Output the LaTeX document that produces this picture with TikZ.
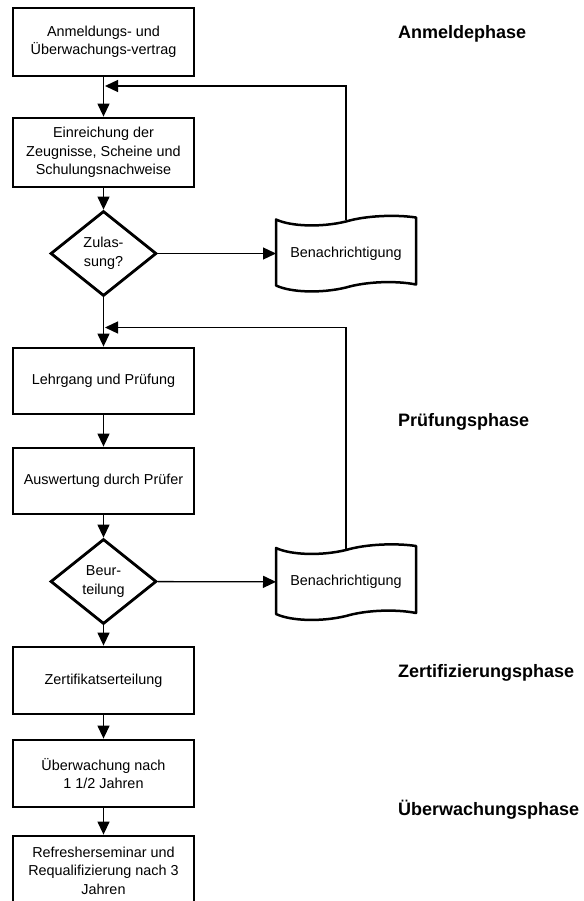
\documentclass[tikz,border=0pt]{standalone}
\usepackage{fontspec}
\setmainfont{Liberation Sans}
\usetikzlibrary{arrows.meta,shapes.geometric}
\tikzset{
  procbox/.style={draw, line width=2.8pt, minimum width=181pt, inner sep=0pt, align=center,
    font=\fontsize{14.4}{18.5}\selectfont},
  decbox/.style={draw, diamond, line width=2.8pt, minimum width=106pt, minimum height=85pt,
    aspect=1.247, inner sep=0pt, align=center, font=\fontsize{14.4}{19}\selectfont},
  docbox/.style={minimum width=140pt, minimum height=66pt, inner sep=0pt, outer sep=0pt,
    font=\fontsize{14.4}{18.5}\selectfont},
  docline/.style={line width=2.5pt, line join=round},
  conn/.style={line width=1.3pt},
  arr/.style={conn, -{Triangle[length=13pt,width=12pt]}},
  phase/.style={anchor=base west, inner sep=0pt, font=\fontsize{18}{22}\selectfont\bfseries}
}
\newcommand{\tapeoutline}[1]{%
  \begin{scope}[shift={(#1.center)}]
    \draw[docline] (-70,-34) .. controls (-55,-27) and (-25,-26) .. (0,-32)
      .. controls (20,-38) and (50,-39) .. (70,-36) -- (70,31)
      .. controls (50,27) and (20,28) .. (0,34)
      .. controls (-25,40) and (-55,39) .. (-70,32) -- cycle;
  \end{scope}}
\begin{document}
\begin{tikzpicture}[x=1pt,y=-1pt]
\useasboundingbox (0,0) rectangle (583,901);
\clip (0,0) rectangle (583,901);
\fill[white] (0,0) rectangle (583,901);

% process column
\node[procbox, minimum height=68pt] (b1) at (103.5,42) {Anmeldungs- und\\Überwachungs-vertrag};
\node[procbox, minimum height=69pt] (b2) at (103.5,152.5) {Einreichung der\\Zeugnisse, Scheine und\\Schulungsnachweise};
\node[decbox] (dz) at (103.5,253.5) {Zulas-\\sung?};
\node[procbox, minimum height=66pt] (b3) at (103.5,381) {Lehrgang und Prüfung};
\node[procbox, minimum height=66pt] (b4) at (103.5,481) {Auswertung durch Prüfer};
\node[decbox] (db) at (103.5,581.5) {Beur-\\teilung};
\node[procbox, minimum height=67pt] (b5) at (103.5,680.5) {Zertifikatserteilung};
\node[procbox, minimum height=67pt] (b6) at (103.5,773.5) {Überwachung nach\\1 1/2 Jahren};
\node[procbox, minimum height=69pt] (b7) at (103.5,870.5) {Refresherseminar und\\Requalifizierung nach 3\\Jahren};

% documents
\node[docbox] (n1) at (346,253.5) {Benachrichtigung};
\tapeoutline{n1}
\node[docbox] (n2) at (346,582) {Benachrichtigung};
\tapeoutline{n2}

% phase labels
\node[phase] (p1) at (398,38.5) {Anmeldephase};
\node[phase] (p2) at (398,426.5) {Prüfungsphase};
\node[phase] (p3) at (398,677.5) {Zertifizierungsphase};
\node[phase] (p4) at (398,815) {Überwachungsphase};

% connectors
\coordinate (f1) at (105,86);
\coordinate (f2) at (105,327.5);
\draw[arr] (b1) -- (b2);
\draw[arr] (b2) -- (dz);
\draw[arr] (dz) -- (n1);
\draw[arr] (dz) -- (b3);
\draw[arr] (b3) -- (b4);
\draw[arr] (b4) -- (db);
\draw[arr] (db) -- (n2);
\draw[arr] (db) -- (b5);
\draw[arr] (b5) -- (b6);
\draw[arr] (b6) -- (b7);
\draw[arr] (n1.north) |- (f1);
\draw[arr] (n2.north) |- (f2);
\end{tikzpicture}
\end{document}
